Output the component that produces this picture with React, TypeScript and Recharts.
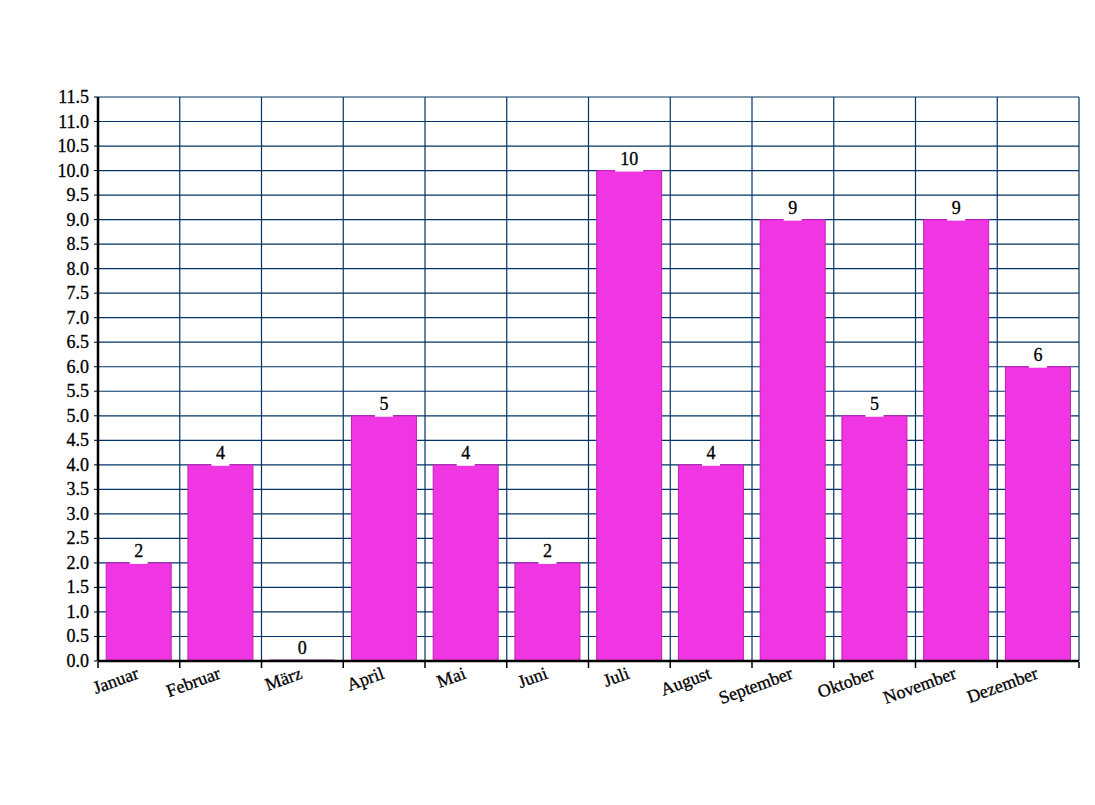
import React from 'react';
import { BarChart, Bar, XAxis, YAxis, CartesianGrid, LabelList } from 'recharts';

const months = ['Januar', 'Februar', 'März', 'April', 'Mai', 'Juni', 'Juli', 'August', 'September', 'Oktober', 'November', 'Dezember'];
const counts = [2, 4, 0, 5, 4, 2, 10, 4, 9, 5, 9, 6];
const yTicks = [0, 0.5, 1, 1.5, 2, 2.5, 3, 3.5, 4, 4.5, 5, 5.5, 6, 6.5, 7, 7.5, 8, 8.5, 9, 9.5, 10, 10.5, 11, 11.5];

const data = months.map((m, i) => ({ month: m, value: counts[i] }));

const W = 1095;
const H = 805;
const margin = { top: 97, right: 16, left: 0, bottom: 104 };
const Y_AXIS_W = 98;
const X_AXIS_H = 40;
const FONT = 'Liberation Serif, DejaVu Serif, serif';
const GRID = '#003366';

const plotW = W - margin.left - margin.right - Y_AXIS_W;
const band = plotW / months.length;

const MonthTick = (props: any) => {
  const { x, y, payload } = props;
  const ty = y + 9;
  return (
    <g>
      <line x1={x + band / 2} y1={y - 7} x2={x + band / 2} y2={y - 1} stroke="#000" strokeWidth={1.5} />
      {payload.index === 0 && (
        <line x1={x - band / 2} y1={y - 7} x2={x - band / 2} y2={y - 1} stroke="#000" strokeWidth={1.5} />
      )}
      <text
        x={x + 1}
        y={ty}
        textAnchor="end"
        fontFamily={FONT}
        fontSize={18}
        fill="#000"
        stroke="#000"
        strokeWidth={0.3}
        transform={`rotate(-20, ${x + 1}, ${ty})`}
      >
        {payload.value}
      </text>
    </g>
  );
};

const ValueTick = (props: any) => {
  const { x, y, payload } = props;
  return (
    <text
      x={x}
      y={y + 6}
      textAnchor="end"
      fontFamily={FONT}
      fontSize={18}
      fill="#000"
      stroke="#000"
      strokeWidth={0.3}
    >
      {Number(payload.value).toFixed(1)}
    </text>
  );
};

const ValueLabel = (props: any) => {
  const { x, y, width, value } = props;
  const cx = x + width / 2;
  const w = String(value).length * 10 + 8;
  return (
    <g>
      <rect x={cx - w / 2} y={y - 21} width={w} height={value === 0 ? 19 : 22} fill="#fff" />
      <text
        x={cx}
        y={y - 6}
        textAnchor="middle"
        fontFamily={FONT}
        fontSize={18}
        fill="#000"
        stroke="#000"
        strokeWidth={0.3}
      >
        {value}
      </text>
    </g>
  );
};

export default function App() {
  return (
    <div style={{ position: 'absolute', left: 0, top: 0, width: W, height: H, background: '#fff' }}>
      <BarChart width={W} height={H} data={data} margin={margin} barCategoryGap="10%">
        <CartesianGrid
          stroke={GRID}
          strokeWidth={1.2}
          horizontal={true}
          vertical={true}
          verticalCoordinatesGenerator={({ offset }: any) =>
            months.map((_, i) => offset.left + ((i + 1) * offset.width) / months.length)
          }
        />
        <Bar
          dataKey="value"
          fill="#f035e2"
          stroke="#c21fb8"
          strokeWidth={1}
          minPointSize={1}
          isAnimationActive={false}
        >
          <LabelList dataKey="value" content={<ValueLabel />} />
        </Bar>
        <XAxis
          dataKey="month"
          height={X_AXIS_H}
          interval={0}
          tickLine={false}
          axisLine={{ stroke: '#000', strokeWidth: 2.5 }}
          tick={<MonthTick />}
        />
        <YAxis
          width={Y_AXIS_W}
          domain={[0, 11.5]}
          ticks={yTicks}
          interval={0}
          tickSize={4}
          tickMargin={5}
          tickLine={{ stroke: '#000' }}
          tick={<ValueTick />}
          axisLine={{ stroke: '#000', strokeWidth: 2.5 }}
        />
      </BarChart>
    </div>
  );
}
